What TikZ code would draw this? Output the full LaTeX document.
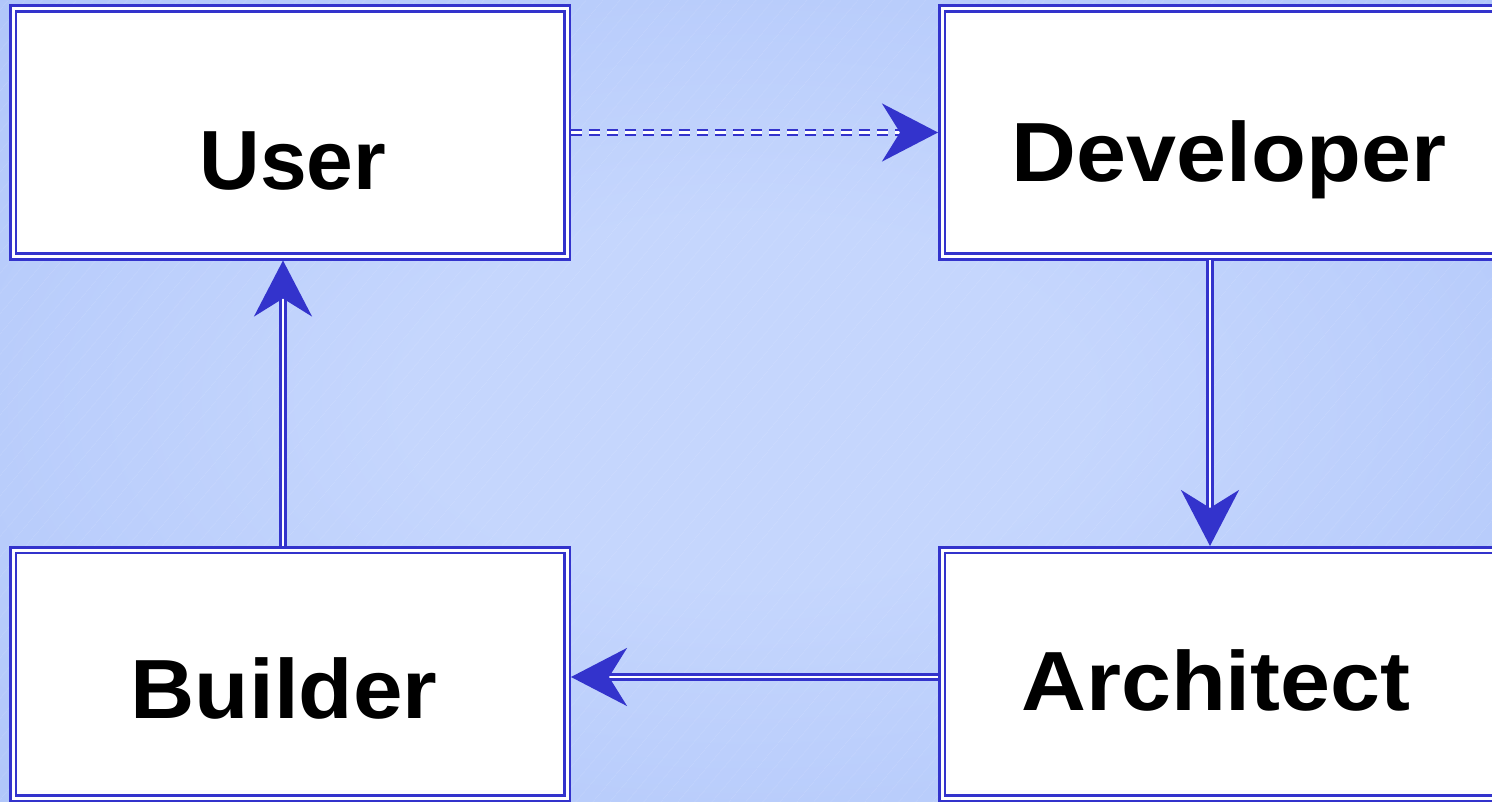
\documentclass[tikz,border=0pt]{standalone}
\usepackage{fontspec}
\newfontfamily\lblfont{Liberation Sans}
\usetikzlibrary{arrows.meta,patterns.meta}

\definecolor{lineblue}{RGB}{51,51,204}
\definecolor{bgin}{RGB}{197,214,253}
\definecolor{bgmid}{RGB}{168,192,249}
\definecolor{bgout}{RGB}{132,164,245}
\pgfdeclareradialshading{bgglow}{\pgfpoint{0bp}{0bp}}{color(0bp)=(bgin); color(8bp)=(bgin); color(32bp)=(bgmid); color(50bp)=(bgout)}

\begin{document}
\begin{tikzpicture}[x=1pt,y=-1pt]
%define
\tikzstyle{box} = [rectangle, minimum width=554pt, minimum height=248pt, inner sep=0pt, outer sep=4pt, draw=lineblue, double=white, double distance=3pt, line width=2.6pt, fill=white]
\tikzstyle{lbl} = [inner sep=0pt, anchor=base, font=\lblfont\bfseries\fontsize{84}{100}\selectfont]
\tikzstyle{arrow} = [draw=lineblue, double=white, double distance=2.6pt, line width=2.4pt, -{Stealth[length=56pt, width=58pt, inset=18pt, fill=lineblue]}]
\tikzstyle{arrowx} = [arrow, line width=2.6pt, dash pattern=on 11pt off 7pt]

%background
\useasboundingbox (0,0) rectangle (1492,802);
\begin{scope}
\clip (0,0) rectangle (1492,802);
\shade[shading=bgglow] (746,401) ellipse (1055 and 567);
\end{scope}
\fill[pattern={Lines[angle=50, distance=13pt, line width=0.4pt]}, pattern color=white, opacity=0.15] (0,0) rectangle (1492,802);

%boxes
\node[box](user) at (290,132.5){};
\node[box](developer) at (1219,132.5){};
\node[box](builder) at (290,674){};
\node[box](architect) at (1219,674){};

%text
\node[lbl](usertxt) at ([xshift=3pt, yshift=-57.5pt]user.center){User};
\node[lbl, xscale=1.07, transform shape](developertxt) at ([xshift=10pt, yshift=-49.5pt]developer.center){Developer};
\node[lbl, xscale=1.06, transform shape](buildertxt) at ([xshift=-6pt, yshift=-44pt]builder.center){Builder};
\node[lbl, xscale=1.07, transform shape](architecttxt) at ([xshift=-3pt, yshift=-36pt]architect.center){Architect};

%line
\draw[arrowx](user.east)--(developer.west);
\draw[arrow]([xshift=-9pt]developer.south)--([xshift=-9pt]architect.north);
\draw[arrow]([yshift=-3pt]architect.west)--([yshift=-3pt]builder.east);
\draw[arrow]([xshift=-7pt]builder.north)--([xshift=-7pt]user.south);

\end{tikzpicture}
\end{document}
